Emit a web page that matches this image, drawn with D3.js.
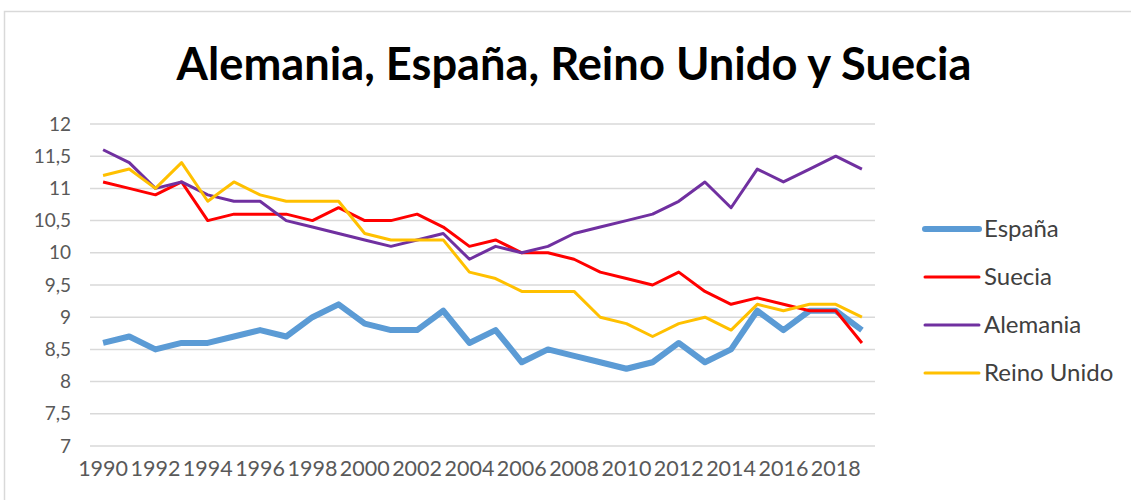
<!DOCTYPE html>
<html>
<head>
<meta charset="utf-8">
<script src="https://cdn.jsdelivr.net/npm/d3@7"></script>
<style>
  body { margin: 0; background: #fff; }
  svg { display: block; font-family: Lato, "Open Sans", sans-serif; }
</style>
</head>
<body>
<div class="chart"></div>
<script>
// Data
var years = d3.range(1990, 2020);
var espana = [8.6, 8.7, 8.5, 8.6, 8.6, 8.7, 8.8, 8.7, 9.0, 9.2, 8.9, 8.8, 8.8, 9.1, 8.6,
  8.8, 8.3, 8.5, 8.4, 8.3, 8.2, 8.3, 8.6, 8.3, 8.5, 9.1, 8.8, 9.1, 9.1, 8.8];
var suecia = [11.1, 11.0, 10.9, 11.1, 10.5, 10.6, 10.6, 10.6, 10.5, 10.7, 10.5, 10.5, 10.6, 10.4, 10.1,
  10.2, 10.0, 10.0, 9.9, 9.7, 9.6, 9.5, 9.7, 9.4, 9.2, 9.3, 9.2, 9.1, 9.1, 8.6];
var alemania = [11.6, 11.4, 11.0, 11.1, 10.9, 10.8, 10.8, 10.5, 10.4, 10.3, 10.2, 10.1, 10.2, 10.3, 9.9,
  10.1, 10.0, 10.1, 10.3, 10.4, 10.5, 10.6, 10.8, 11.1, 10.7, 11.3, 11.1, 11.3, 11.5, 11.3];
var reinoUnido = [11.2, 11.3, 11.0, 11.4, 10.8, 11.1, 10.9, 10.8, 10.8, 10.8, 10.3, 10.2, 10.2, 10.2, 9.7,
  9.6, 9.4, 9.4, 9.4, 9.0, 8.9, 8.7, 8.9, 9.0, 8.8, 9.2, 9.1, 9.2, 9.2, 9.0];
var yTicks = [7, 7.5, 8, 8.5, 9, 9.5, 10, 10.5, 11, 11.5, 12];

var series = [
  { name: "España", values: espana, color: "#5b9bd5", width: 6 },
  { name: "Suecia", values: suecia, color: "#ff0000", width: 3 },
  { name: "Alemania", values: alemania, color: "#7030a0", width: 3 },
  { name: "Reino Unido", values: reinoUnido, color: "#ffc000", width: 3 }
];

var svgWidth = 1131;
var svgHeight = 500;

var margin = { top: 124, right: 256, bottom: 54, left: 90 };
var width = svgWidth - margin.left - margin.right;
var height = svgHeight - margin.top - margin.bottom;

var svg = d3.select(".chart")
  .append("svg")
  .attr("width", svgWidth)
  .attr("height", svgHeight);

// chart area border
svg.append("rect")
  .attr("x", 4.5)
  .attr("y", 11.5)
  .attr("width", svgWidth)
  .attr("height", svgHeight)
  .attr("fill", "none")
  .attr("stroke", "#d9d9d9")
  .attr("stroke-width", 1.5);

// title, squeezed to the width seen in the reference
var title = svg.append("text")
  .attr("x", 574)
  .attr("y", 80)
  .attr("text-anchor", "middle")
  .attr("font-weight", "bold")
  .attr("font-size", 46)
  .attr("fill", "#000")
  .text("Alemania, España, Reino Unido y Suecia");
var tw = title.node().getComputedTextLength();
title.attr("font-size", 46 * 795 / tw);

var chartGroup = svg.append("g")
  .attr("transform", `translate(${margin.left}, ${margin.top})`);

var xScale = d3.scaleBand()
  .domain(years)
  .range([0, width]);

var yScale = d3.scaleLinear()
  .domain([7, 12])
  .range([height, 0]);

// gridlines
chartGroup.selectAll(".grid")
  .data(yTicks)
  .enter()
  .append("line")
  .attr("class", "grid")
  .attr("x1", 0)
  .attr("x2", width)
  .attr("y1", d => yScale(d))
  .attr("y2", d => yScale(d))
  .attr("stroke", "#d9d9d9")
  .attr("stroke-width", 1.5);

// y axis labels
var leftAxis = d3.axisLeft(yScale)
  .tickValues(yTicks)
  .tickSize(0)
  .tickPadding(19)
  .tickFormat(d => String(d).replace(".", ","));

var yAxis = chartGroup.append("g").call(leftAxis);
yAxis.select(".domain").remove();
yAxis.selectAll("text")
  .attr("font-family", "Lato, sans-serif")
  .attr("font-size", 19)
  .attr("fill", "#595959");

// x axis labels, every other year
var bottomAxis = d3.axisBottom(xScale)
  .tickValues(years.filter(y => y % 2 == 0))
  .tickSize(0)
  .tickPadding(15);

var xAxis = chartGroup.append("g")
  .attr("transform", `translate(0, ${height})`)
  .call(bottomAxis);
xAxis.select(".domain").remove();
xAxis.selectAll("text")
  .attr("font-family", "Lato, sans-serif")
  .attr("font-size", 21.5)
  .attr("fill", "#595959");

// lines
var line = d3.line()
  .x((d, i) => xScale(years[i]) + xScale.bandwidth() / 2)
  .y(d => yScale(d));

chartGroup.selectAll(".series")
  .data(series)
  .enter()
  .append("path")
  .attr("class", "series")
  .attr("d", d => line(d.values))
  .attr("fill", "none")
  .attr("stroke", d => d.color)
  .attr("stroke-width", d => d.width)
  .attr("stroke-linejoin", "round");

// legend
var legend = svg.selectAll(".legend")
  .data(series)
  .enter()
  .append("g")
  .attr("class", "legend")
  .attr("transform", (d, i) => `translate(925, ${229 + i * 48})`);

legend.append("line")
  .attr("x1", 0)
  .attr("x2", 54)
  .attr("stroke", d => d.color)
  .attr("stroke-width", d => d.width)
  .attr("stroke-linecap", "round");

legend.append("text")
  .attr("x", 59)
  .attr("dy", "0.35em")
  .attr("font-size", 24)
  .attr("fill", "#404040")
  .text(d => d.name);
</script>
</body>
</html>
